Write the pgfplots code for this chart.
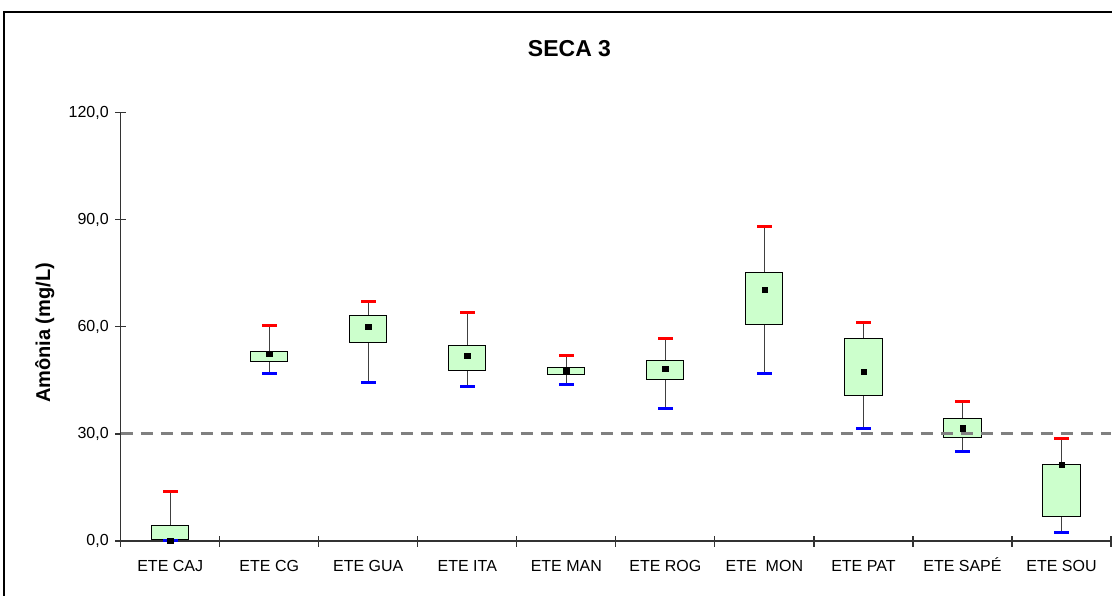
\documentclass[border=0pt]{standalone}
\usepackage{fontspec}
\setmainfont{Liberation Sans}
\usepackage{pgfplots}
\usepackage{pgfplotstable}
\pgfplotsset{compat=1.18}
\usepgfplotslibrary{statistics}
\definecolor{boxgreen}{HTML}{CCFFCC}
\definecolor{dashgray}{HTML}{808080}

\pgfplotstableread{
x min q1 q3 max mean
1 0.2 0.5 4.3 14.0 0.1
2 46.9 50.4 53.0 60.5 52.4
3 44.3 55.7 63.1 67.1 60.1
4 43.4 47.7 54.8 64.0 51.9
5 43.9 46.7 48.6 52.1 47.7
6 37.0 45.3 50.5 56.8 48.2
7 47.0 60.7 75.3 88.0 70.4
8 31.5 40.7 56.6 61.1 47.4
9 25.0 29.0 34.4 39.2 31.6
10 2.4 6.9 21.5 28.6 21.3
}\stats

\newcommand{\bp}[5]{\addplot[fill=boxgreen, draw=black, line width=1pt,
  boxplot/draw direction=y,
  boxplot/box extend=0.375, boxplot/whisker extend=0,
  boxplot/every whisker/.style={draw=black!75, line width=1pt},
  boxplot prepared={draw position=#1, lower whisker=#2, lower quartile=#3,
    median=#3, upper quartile=#4, upper whisker=#5}] coordinates {};}

\begin{document}
\begin{tikzpicture}
\begin{axis}[
  at={(120.7pt,54pt)}, anchor=south west,
  scale only axis, width=990.3pt, height=428.3pt,
  xmin=0.5, xmax=10.5, ymin=0, ymax=120,
  clip=false,
  axis lines*=left,
  axis line style={-, draw=black!80, line width=1.2pt},
  ytick={0,30,...,120},
  xtick={0.5,1.5,...,10.5}, xticklabels={},
  extra x ticks={1,2,...,10},
  extra x tick labels={ETE CAJ,ETE CG,ETE GUA,ETE ITA,ETE MAN,ETE ROG,ETE~~MON,ETE PAT,ETE SAPÉ,ETE SOU},
  extra x tick style={major tick length=0pt},
  tick align=center, major tick length=11pt,
  tick style={black!80, line width=1.2pt},
  xticklabel style={font=\fontsize{16}{19}\selectfont, anchor=north, text height=12pt, text depth=3pt, yshift=-15pt},
  yticklabel style={font=\fontsize{16}{19}\selectfont, anchor=east, xshift=-3pt},
  /pgf/number format/.cd, fixed, fixed zerofill, precision=1, use comma, 1000 sep={}, assume math mode=true
]
\bp{1}{0.2}{0.5}{4.3}{14.0}
\bp{2}{46.9}{50.4}{53.0}{60.5}
\bp{3}{44.3}{55.7}{63.1}{67.1}
\bp{4}{43.4}{47.7}{54.8}{64.0}
\bp{5}{43.9}{46.7}{48.6}{52.1}
\bp{6}{37.0}{45.3}{50.5}{56.8}
\bp{7}{47.0}{60.7}{75.3}{88.0}
\bp{8}{31.5}{40.7}{56.6}{61.1}
\bp{9}{25.0}{29.0}{34.4}{39.2}
\bp{10}{2.4}{6.9}{21.5}{28.6}
\addplot[dashgray, line width=3pt, dash pattern=on 12pt off 8pt] coordinates {(0.5,30) (10.5,30)};
\addplot[only marks, red, mark=-, mark size=7.5pt, mark options={line width=3pt, solid}] table[x=x, y=max] {\stats};
\addplot[only marks, blue, mark=-, mark size=7.5pt, mark options={line width=3pt, solid}] table[x=x, y=min] {\stats};
\addplot[only marks, black, mark=square*, mark size=2.7pt] table[x=x, y=mean] {\stats};
\end{axis}
\node[font=\bfseries\fontsize{23}{27}\selectfont, anchor=base] at (569.5pt,538.3pt) {SECA 3};
\node[font=\bfseries\fontsize{20}{24}\selectfont, rotate=90, anchor=base] at (50pt,262pt) {Amônia (mg/L)};
\draw[line width=1.5pt] (4pt,-20pt) -- (4pt,583pt) -- (1130pt,583pt);
\pgfresetboundingbox
\useasboundingbox (0,0) rectangle (1112pt,595pt);
\end{tikzpicture}
\end{document}
